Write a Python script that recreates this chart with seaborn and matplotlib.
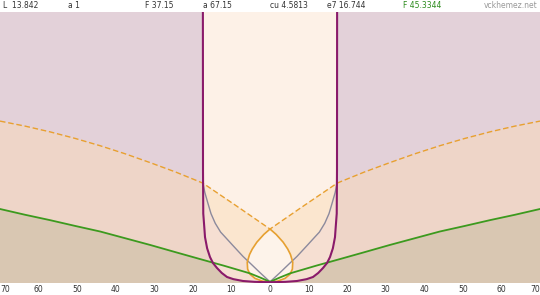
import numpy as np
import pandas as pd
import matplotlib
matplotlib.use("Agg")
import matplotlib.pyplot as plt
import seaborn as sns

# ---- data (x in axis units, y in same units) ----
dash_x = [-70, -63.5, -57, -50.5, -44, -37.5, -31, -24.5, -18.1, -17.4, -9, 0,
          9, 17.4, 18.1, 24.5, 31, 37.5, 44, 50.5, 57, 63.5, 70]
dash_y = [42.0, 40.7, 39.2, 37.5, 35.6, 33.5, 31.2, 28.8, 26.2, 25.9, 20.2, 14.0,
          20.2, 25.9, 26.2, 28.8, 31.2, 33.5, 35.6, 37.5, 39.2, 40.7, 42.0]

green_x = [-70, -63.5, -57, -50.5, -44, -37.5, -31, -24.5, -18.1, -12, -5.2, -2.5, 0,
           2.5, 5.2, 12, 18.1, 24.5, 31, 37.5, 44, 50.5, 57, 63.5, 70]
green_y = [19.2, 17.7, 16.3, 14.8, 13.35, 11.6, 9.85, 8.0, 6.2, 4.5, 2.5, 1.4, 0.3,
           1.4, 2.5, 4.5, 6.2, 8.0, 9.85, 11.6, 13.35, 14.8, 16.3, 17.7, 19.2]

purple_x = [-17.4, -17.37, -17.3, -17.0, -16.85, -16.3, -15.56, -14.8, -13.74, -12.5,
            -11.15, -9.5, -7.0, -4.0, 0,
            4.0, 7.0, 9.5, 11.15, 12.5, 13.74, 14.8, 15.56, 16.3, 16.85, 17.0, 17.3, 17.37, 17.4]
purple_y = [71.0, 29.3, 18.0, 14.0, 11.9, 9.0, 6.74, 5.2, 3.89, 2.6,
            1.56, 1.0, 0.52, 0.3, 0.2,
            0.3, 0.52, 1.0, 1.56, 2.6, 3.89, 5.2, 6.74, 9.0, 11.9, 14.0, 18.0, 29.3, 71.0]

grey_x = [-17.4, -16.9, -16.1, -15.3, -14.2, -12.8, -11.6, -9.5, -7.0, -5.0, -2.5, 0,
          2.5, 5.0, 7.0, 9.5, 11.6, 12.8, 14.2, 15.3, 16.1, 16.9, 17.4]
grey_y = [26.0, 23.5, 20.7, 18.0, 15.5, 13.2, 11.9, 9.6, 6.9, 5.0, 2.6, 0.3,
          2.6, 5.0, 6.9, 9.6, 11.9, 13.2, 15.5, 18.0, 20.7, 23.5, 26.0]

drop_x = [0, -1.6, -3.4, -4.6, -5.3, -5.9, -5.8, -5.2, -3.9, -2.0, 0,
          2.0, 3.9, 5.2, 5.8, 5.9, 5.3, 4.6, 3.4, 1.6, 0]
drop_y = [14.0, 12.6, 10.6, 8.8, 7.4, 5.4, 3.6, 2.3, 1.2, 0.5, 0.25,
          0.5, 1.2, 2.3, 3.6, 5.4, 7.4, 8.8, 10.6, 12.6, 14.0]

tick_vals = [-70, -60, -50, -40, -30, -20, -10, 0, 10, 20, 30, 40, 50, 60, 70]
tick_labels = ["70", "60", "50", "40", "30", "20", "10", "0", "10", "20", "30", "40", "50", "60", "70"]

header_texts = ["L  13.842", "a 1", "F 37.15", "a 67.15", "cu 4.5813", "e7 16.744"]
header_pos = [3, 68, 145, 203, 270, 327]
green_label = "F 45.3344"
site_label = "vckhemez.net"

YTOP = 70.3

sns.set_theme(style="white")
plt.rcParams['font.family'] = ['DejaVu Sans']

fig = plt.figure(figsize=(5.4, 2.95), dpi=100, facecolor="white")
ax = fig.add_axes([0, 12 / 295, 1, (295 - 24) / 295])
ax.set_facecolor("#e3d1d9")

# background bands
ax.fill_between(dash_x, dash_y, 0, color="#eed5c8", lw=0, zorder=1)
ax.fill_between(green_x, green_y, 0, color="#d9c7b2", lw=0, zorder=1.1)

# inside purple walls
ax.fill(purple_x, purple_y, color="#fdf1e7", lw=0, zorder=1.2)
iv_x = [x for x in dash_x if abs(x) <= 17.4]
iv_y = [y for x, y in zip(dash_x, dash_y) if abs(x) <= 17.4]
inner_px = [x for x, y in zip(purple_x, purple_y) if y <= 26.5]
inner_py = [y for x, y in zip(purple_x, purple_y) if y <= 26.5]
ax.fill([-17.4] + inner_px + [17.4] + iv_x[::-1], [25.9] + inner_py + [25.9] + iv_y[::-1],
        color="#f6dfd2", lw=0, zorder=1.3)
ax.fill(grey_x + iv_x[::-1], grey_y + iv_y[::-1], color="#fbe6cf", lw=0, zorder=1.4)
ax.fill(drop_x, drop_y, color="#fdf3ea", lw=0, zorder=1.5)

# lines
df_green = pd.DataFrame({"x": green_x, "y": green_y})
df_dash = pd.DataFrame({"x": dash_x, "y": dash_y})
df_purple = pd.DataFrame({"x": purple_x, "y": purple_y})
df_grey = pd.DataFrame({"x": grey_x, "y": grey_y})
df_drop = pd.DataFrame({"x": drop_x, "y": drop_y})

sns.lineplot(data=df_grey, x="x", y="y", sort=False, estimator=None, ax=ax,
             color="#8c8a9c", lw=1.0, zorder=3)
sns.lineplot(data=df_drop, x="x", y="y", sort=False, estimator=None, ax=ax,
             color="#e6a030", lw=1.2, zorder=3)
sns.lineplot(data=df_dash, x="x", y="y", sort=False, estimator=None, ax=ax,
             color="#e8a030", lw=1.0, zorder=3, linestyle=(0, (4, 2)))
sns.lineplot(data=df_green, x="x", y="y", sort=False, estimator=None, ax=ax,
             color="#3c9a1e", lw=1.3, zorder=4)
sns.lineplot(data=df_purple, x="x", y="y", sort=False, estimator=None, ax=ax,
             color="#8a1a6a", lw=1.5, zorder=5)

ax.set_xlim(-70, 70)
ax.set_ylim(0, YTOP)
ax.set_xlabel("")
ax.set_ylabel("")
ax.set_yticks([])
ax.set_xticks(tick_vals)
ax.set_xticklabels(tick_labels)
ax.tick_params(axis="x", length=0, pad=1.5, labelsize=5.5, labelcolor="#333333")
labels = ax.get_xticklabels()
labels[0].set_horizontalalignment("left")
labels[-1].set_horizontalalignment("right")
for s in ax.spines.values():
    s.set_visible(False)

# header
for t, xp in zip(header_texts, header_pos):
    fig.text(xp / 540, 1 - 6 / 295, t, fontsize=5.5, color="#333333", va="center", ha="left")
fig.text(403 / 540, 1 - 6 / 295, green_label, fontsize=5.5, color="#2a8a1a", va="center", ha="left")
fig.text(538 / 540, 1 - 6 / 295, site_label, fontsize=5.5, color="#999999", va="center", ha="right")

fig.savefig("out.png", dpi=100, facecolor="white")
